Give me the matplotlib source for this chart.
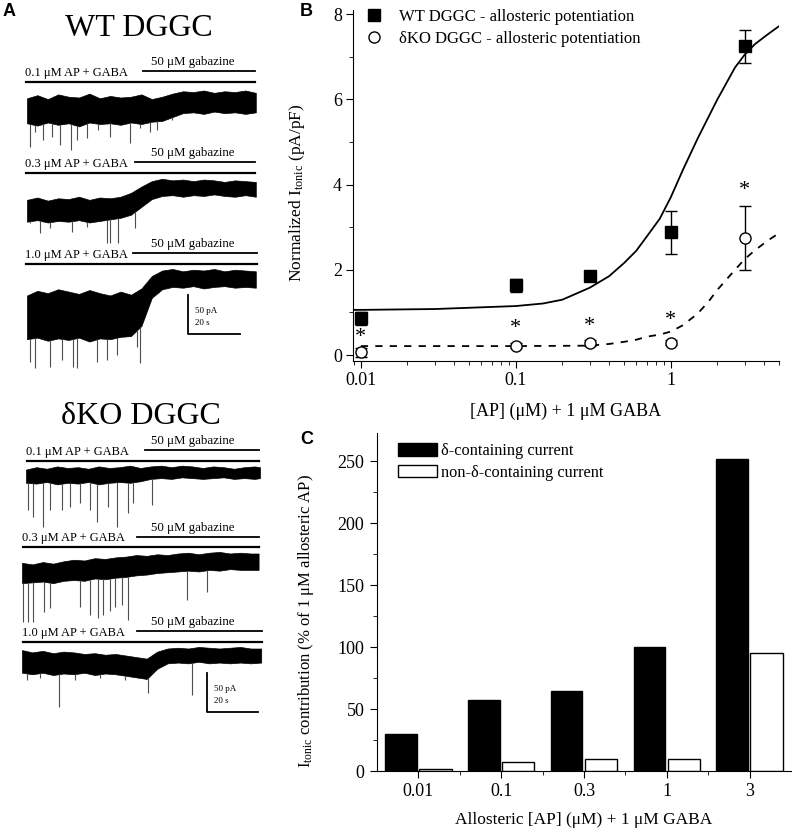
import numpy as np
import matplotlib.pyplot as plt
from matplotlib.patches import Patch
from matplotlib.lines import Line2D

plt.rcParams['font.family'] = ['Liberation Serif', 'DejaVu Serif']
plt.rcParams['mathtext.fontset'] = 'custom'
plt.rcParams['mathtext.rm'] = 'Liberation Serif'
plt.rcParams['mathtext.it'] = 'Liberation Serif:italic'

# ---- panel A: traces, envelope read every 4 s (pA relative to pre-gabazine level)
wt01_end = 88
wt01_hi = [15, 19, 14, 20, 17, 16, 21, 15, 18, 16, 17, 20, 14, 17, 21, 24, 23, 25, 22, 24, 23, 25, 22]
wt01_lo = [-17, -20, -16, -19, -17, -21, -16, -18, -17, -19, -16, -18, -15, -14, -9, -4, -3, -5, -2, -4, -3, -5, -3]
wt01_st = [1.2, 3.1, 6.2, 9.6, 12.7, 16.9, 19.2, 23.1, 27.3, 31.9, 39.6, 43.5, 47.3, 50, 55.8]
wt01_sa = [-47, -28, -38, -35, -45, -51, -38, -36, -26, -35, -42, -23, -28, -26, -13]

wt03_end = 88
wt03_hi = [13, 16, 12, 15, 14, 17, 13, 16, 15, 17, 22, 30, 37, 40, 38, 39, 37, 39, 38, 36, 38, 37, 36]
wt03_lo = [-15, -13, -16, -14, -15, -13, -16, -14, -12, -10, -6, 4, 14, 18, 19, 17, 19, 18, 20, 18, 17, 19, 17]
wt03_st = [1.2, 5, 8.8, 17.3, 23.1, 30.8, 31.9, 35, 41.5]
wt03_sa = [-17, -29, -23, -28, -22, -42, -42, -42, -23]

wt10_end = 88
wt10_hi = [25, 31, 28, 33, 30, 27, 32, 28, 25, 30, 26, 34, 50, 57, 59, 56, 58, 57, 59, 56, 58, 57, 56]
wt10_lo = [-31, -29, -33, -30, -32, -29, -34, -30, -31, -28, -27, -14, 22, 33, 36, 35, 37, 34, 36, 37, 35, 36, 35]
wt10_st = [1.2, 3.1, 8.8, 13.5, 17.7, 19.2, 26.9, 30.8, 34.6, 42.3, 43.5]
wt10_sa = [-60, -68, -67, -58, -67, -68, -60, -58, -51, -41, -62]

ko01_end = 90
ko01_hi = [7, 10, 8, 11, 9, 10, 8, 11, 9, 10, 12, 9, 11, 12, 10, 12, 11, 9, 11, 10, 8, 10, 11, 10]
ko01_lo = [-10, -11, -9, -12, -10, -11, -9, -12, -10, -9, -10, -8, -5, -4, -5, -3, -4, -5, -4, -3, -5, -4, -5, -4]
ko01_st = [0.8, 2.7, 6.5, 9.2, 13.8, 16.9, 20.8, 24.6, 27.3, 31.5, 35, 39.2, 41.2, 48.5]
ko01_sa = [-45, -54, -67, -45, -45, -41, -36, -45, -60, -41, -67, -49, -36, -38]

ko03_end = 91
ko03_hi = [13, 11, 14, 12, 15, 17, 16, 19, 18, 20, 21, 23, 22, 24, 23, 25, 26, 24, 26, 27, 25, 26, 25, 25]
ko03_lo = [-13, -12, -11, -13, -10, -9, -10, -7, -8, -6, -5, -3, -2, 0, 1, 2, 3, 2, 4, 3, 5, 4, 4, 4]
ko03_st = [0.4, 2.3, 4.2, 8.5, 10.8, 22.3, 26.2, 29.2, 31.2, 33.8, 35.8, 38.5, 40.8, 63.5, 71.2]
ko03_sa = [-63, -63, -63, -50, -45, -44, -54, -58, -54, -49, -44, -41, -60, -35, -24]

ko10_end = 92
ko10_hi = [14, 11, 13, 10, 12, 11, 9, 10, 8, 9, 7, 5, 3, 12, 16, 17, 16, 18, 17, 16, 17, 18, 16, 16]
ko10_lo = [-15, -17, -15, -18, -16, -17, -15, -18, -16, -17, -19, -21, -23, -10, -3, -2, -3, -1, -3, -2, -3, -2, -3, -2]
ko10_st = [2, 7, 14.2, 20.4, 30, 39.6, 48.5, 65.4]
ko10_sa = [-24, -22, -59, -24, -22, -24, -41, -44]

# ---- panel B
conc = [0.01, 0.1, 0.3, 1, 3]
wt_mean = [0.86, 1.64, 1.86, 2.88, 7.25]
wt_err = [0.15, 0.15, 0.08, 0.5, 0.39]
ko_mean = [0.06, 0.22, 0.29, 0.29, 2.75]
ko_err = [0.1, 0.06, 0.07, 0.06, 0.76]
star_y = [0.41, 0.63, 0.68, 0.8, 3.86]
wt_fit_x = [0.009, 0.01, 0.03, 0.1, 0.15, 0.2, 0.3, 0.4, 0.5, 0.6, 0.7, 0.85, 1.0,
            1.2, 1.5, 2.0, 2.6, 3.0, 3.5, 4.2, 5.0]
wt_fit_y = [1.06, 1.06, 1.08, 1.15, 1.21, 1.30, 1.58, 1.85, 2.16, 2.45, 2.78, 3.2, 3.70,
            4.35, 5.1, 6.0, 6.75, 7.05, 7.3, 7.52, 7.72]
ko_fit_x = [0.01, 0.03, 0.1, 0.3, 0.4, 0.5, 0.6, 0.7, 0.85, 1.0, 1.2, 1.5, 1.75, 2.0,
            2.6, 3.0, 3.5, 4.2, 5.0]
ko_fit_y = [0.21, 0.21, 0.21, 0.22, 0.26, 0.31, 0.36, 0.43, 0.48, 0.55, 0.7, 0.98, 1.25,
            1.53, 2.0, 2.25, 2.46, 2.68, 2.86]

# ---- panel C
c_labels = ['0.01', '0.1', '0.3', '1', '3']
delta_cur = [30, 57, 65, 100, 252]
nondelta_cur = [2, 7, 9.5, 10, 95]

fig = plt.figure(figsize=(7.96, 8.31), dpi=100)
W, H = 796, 831

# panel A drawn in pixel-like coordinates
axA = fig.add_axes([0, 0, 270 / W, 1])
axA.set_xlim(0, 270)
axA.set_ylim(H, 0)
axA.axis('off')

px_s = 52 / 20.0   # px per second (scale bar 20 s)
px_pA = 39 / 50.0  # px per pA (scale bar 50 pA)


def draw_trace(x0, y0, end, hi, lo, st, sa):
    t = np.array(list(range(0, 4 * (len(hi) - 1), 4)) + [end], float)
    x = x0 + t * px_s
    axA.fill_between(x, y0 - np.array(hi) * px_pA, y0 - np.array(lo) * px_pA,
                     color='black', lw=0.5)
    st = np.array(st, float)
    base = y0 - np.interp(st, t, lo) * px_pA
    axA.vlines(x0 + st * px_s, base, y0 - np.array(sa) * px_pA, color='0.3', lw=0.8)


def draw_labels(y_text, x_lab, lab, gx0, gx1, y_gab):
    axA.text(x_lab, y_text, lab, fontsize=9, va='center', ha='left')
    axA.text(151, y_gab - 9, '50 μM gabazine', fontsize=9.3, va='center', ha='left')
    axA.plot([gx0, gx1], [y_gab, y_gab], color='black', lw=1.3)
    axA.plot([x_lab + 1, gx1], [y_text + 9, y_text + 9], color='black', lw=1.6)


def scale_bar(x, y_top, y_bot, x_right):
    axA.plot([x, x, x_right], [y_top, y_bot, y_bot], color='black', lw=1.3)
    axA.text(x + 7, y_bot - 23, '50 pA', fontsize=6.5, va='center')
    axA.text(x + 7, y_bot - 11, '20 s', fontsize=6.5, va='center')


axA.text(3, 12, 'A', fontsize=13, fontweight='bold', family='Liberation Sans', va='center')
axA.text(139, 29, 'WT DGGC', fontsize=23, ha='center', va='center')
draw_labels(73, 25, '0.1 μM AP + GABA', 143, 255, 71)
draw_trace(27, 110, wt01_end, wt01_hi, wt01_lo, wt01_st, wt01_sa)
draw_labels(164, 25, '0.3 μM AP + GABA', 135, 255, 162)
draw_trace(27, 210, wt03_end, wt03_hi, wt03_lo, wt03_st, wt03_sa)
draw_labels(255, 25, '1.0 μM AP + GABA', 133, 257, 253)
draw_trace(27, 315, wt10_end, wt10_hi, wt10_lo, wt10_st, wt10_sa)
scale_bar(188, 295, 334, 240)

axA.text(141, 416, 'δKO DGGC', fontsize=23, ha='center', va='center')
draw_labels(452, 26, '0.1 μM AP + GABA', 145, 259, 450)
draw_trace(26, 475, ko01_end, ko01_hi, ko01_lo, ko01_st, ko01_sa)
draw_labels(538, 22, '0.3 μM AP + GABA', 137, 259, 537)
draw_trace(22, 573, ko03_end, ko03_hi, ko03_lo, ko03_st, ko03_sa)
draw_labels(633, 22, '1.0 μM AP + GABA', 137, 262, 631)
draw_trace(22, 661, ko10_end, ko10_hi, ko10_lo, ko10_st, ko10_sa)
scale_bar(207, 673, 712, 258)

# panel B
axB = fig.add_axes([353 / W, 1 - 361 / H, (779 - 353) / W, (361 - 10) / H])
axB.set_xscale('log')
axB.set_xlim(0.0089, 5)
axB.set_ylim(-0.14, 8.1)
axB.plot(wt_fit_x, wt_fit_y, color='black', lw=1.3)
axB.plot(ko_fit_x, ko_fit_y, color='black', lw=1.3, ls=(0, (4, 4)))
axB.errorbar(conc, wt_mean, yerr=wt_err, fmt='s', color='black', ms=8.5,
             capsize=4, elinewidth=1, capthick=1, zorder=3)
axB.errorbar(conc, ko_mean, yerr=ko_err, fmt='o', color='black', mfc='white',
             ms=8, capsize=4, elinewidth=1, capthick=1, zorder=3)
for cx, sy in zip(conc, star_y):
    axB.text(cx, sy, '*', fontsize=16, ha='center', va='center')
axB.spines['top'].set_visible(False)
axB.spines['right'].set_visible(False)
axB.set_yticks([0, 2, 4, 6, 8])
axB.set_yticks([1, 3, 5, 7], minor=True)
axB.set_xticks([0.01, 0.1, 1])
axB.set_xticklabels(['0.01', '0.1', '1'])
axB.tick_params(which='major', direction='out', length=5, labelsize=13, pad=3)
axB.tick_params(which='minor', direction='out', length=3)
axB.set_ylabel(r'Normalized I$_{\rm tonic}$ (pA/pF)', fontsize=12.5)
axB.yaxis.set_label_coords(-0.108, 0.48)
axB.set_xlabel('[AP] (μM) + 1 μM GABA', fontsize=13)
axB.xaxis.set_label_coords(0.5, -0.12)
hB = [Line2D([], [], ls='', marker='s', color='black', ms=8.5),
      Line2D([], [], ls='', marker='o', color='black', mfc='white', ms=8)]
fig.legend(hB, ['WT DGGC - allosteric potentiation', 'δKO DGGC - allosteric potentiation'],
           loc='upper left', bbox_to_anchor=(364 / W, 1 - 9 / H), frameon=False,
           fontsize=12, handlelength=1.25, handletextpad=0.85, labelspacing=0.35,
           borderpad=0, borderaxespad=0)
fig.text(300 / W, 1 - 11 / H, 'B', fontsize=13, fontweight='bold',
         family='Liberation Sans', va='center')

# panel C
axC = fig.add_axes([377 / W, 1 - 771 / H, (791 - 377) / W, (771 - 433) / H])
pos = np.arange(len(c_labels))
axC.bar(pos - 0.21, delta_cur, width=0.38, color='black', edgecolor='black', lw=1)
axC.bar(pos + 0.205, nondelta_cur, width=0.39, color='white', edgecolor='black', lw=1)
axC.set_xlim(-0.5, 4.5)
axC.set_ylim(0, 273)
axC.spines['top'].set_visible(False)
axC.spines['right'].set_visible(False)
axC.set_xticks(pos)
axC.set_xticklabels(c_labels)
axC.set_xticks(pos[:-1] + 0.5, minor=True)
axC.set_yticks([0, 50, 100, 150, 200, 250])
axC.set_yticks([25, 75, 125, 175, 225], minor=True)
axC.tick_params(which='major', direction='out', length=5, labelsize=13, pad=4)
axC.tick_params(which='minor', direction='out', length=3)
axC.set_ylabel(r'I$_{\rm tonic}$ contribution (% of 1 μM allosteric AP)', fontsize=12)
axC.yaxis.set_label_coords(-0.147, 0.444)
axC.set_xlabel('Allosteric [AP] (μM) + 1 μM GABA', fontsize=12.5)
axC.xaxis.set_label_coords(0.5, -0.121)
fig.legend([Patch(fc='black', ec='black'), Patch(fc='white', ec='black')],
           ['δ-containing current', 'non-δ-containing current'],
           loc='upper left', bbox_to_anchor=(398 / W, 1 - 443 / H), frameon=False,
           fontsize=11.8, handlelength=2.4, handleheight=0.8, handletextpad=0.25,
           labelspacing=0.35, borderpad=0, borderaxespad=0)
fig.text(300 / W, 1 - 439 / H, 'C', fontsize=13, fontweight='bold',
         family='Liberation Sans', va='center')

fig.savefig('out.png', dpi=100)
